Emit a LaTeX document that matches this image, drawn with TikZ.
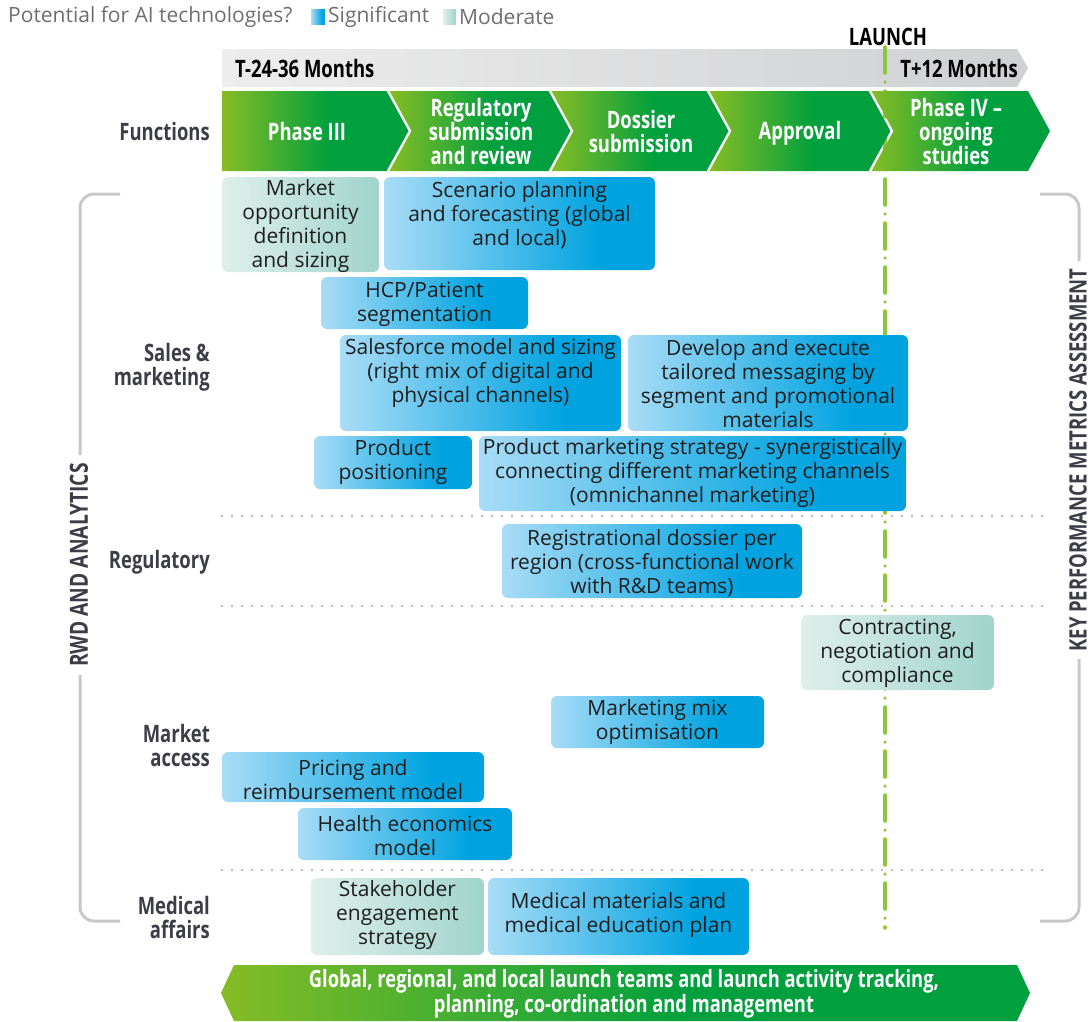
\documentclass[tikz,border=0pt]{standalone}
\usepackage{fontspec}
\setmainfont{Open Sans}
\newfontfamily\cond{Open Sans}[FakeStretch=0.77]
\definecolor{sigL}{HTML}{A9DCF6}
\definecolor{sigR}{HTML}{00A3E0}
\definecolor{modL}{HTML}{DFEFEA}
\definecolor{modR}{HTML}{A0D4CC}
\definecolor{grnL}{HTML}{86BC25}
\definecolor{grnR}{HTML}{00A03E}
\definecolor{grayL}{HTML}{EDEDED}
\definecolor{grayR}{HTML}{CFD0D2}
\definecolor{lbl}{HTML}{3D3D47}
\definecolor{brk}{HTML}{C8C8C8}
\definecolor{dotc}{HTML}{A5A5A5}
\definecolor{launchc}{HTML}{8DC63F}
\definecolor{txt}{HTML}{1E1E1E}
\definecolor{legc}{HTML}{6D6E70}
\pgfdeclarehorizontalshading{sigsh}{100bp}{color(0bp)=(sigL); color(25bp)=(sigL); color(65bp)=(sigR); color(100bp)=(sigR)}
\pgfdeclarehorizontalshading{modsh}{100bp}{color(0bp)=(modL); color(25bp)=(modL); color(75bp)=(modR); color(100bp)=(modR)}
\pgfdeclarehorizontalshading{grnsh}{100bp}{color(0bp)=(grnL); color(25bp)=(grnL); color(54bp)=(grnR); color(100bp)=(grnR)}
\pgfdeclarehorizontalshading{graysh}{100bp}{color(0bp)=(grayL); color(25bp)=(grayL); color(75bp)=(grayR); color(100bp)=(grayR)}
\newcommand\aibox[8]{%
  \path[#2] (#3,#4) rectangle (#5,#6);
  \node[boxtext] (#1) at ({(#3+#5)/2},{#7+1.5}) {#8};
}
\begin{document}
\begin{tikzpicture}[x=1pt,y=-1pt,
  boxtext/.style={align=center, text=txt, font=\fontsize{21}{24}\selectfont, inner sep=0pt},
  hdr/.style={font=\cond\bfseries\fontsize{24}{24}\selectfont, text=black, inner sep=0pt},
  rowlbl/.style={font=\cond\bfseries\fontsize{24}{24}\selectfont, text=lbl, align=right, anchor=east, inner sep=0pt},
  chev/.style={font=\cond\bfseries\fontsize{24}{24}\selectfont, text=white, align=center, inner sep=0pt},
  sig/.style={shade, shading=sigsh, rounded corners=6pt},
  mod/.style={shade, shading=modsh, rounded corners=6pt},
  chevfill/.style={shade, shading=grnsh},
  sepline/.style={draw=dotc, line width=2.4pt, line cap=round, dash pattern=on 0pt off 10pt},
  brack/.style={draw=brk, line width=3pt, rounded corners=14pt},
  launchln/.style={draw=launchc, line width=3.5pt, line cap=round, dash pattern=on 26pt off 9pt on 0pt off 9pt},
  legtxt/.style={font=\fontsize{21}{24}\selectfont, text=legc, inner sep=0pt, anchor=west},
  vtext/.style={font=\cond\bfseries\fontsize{25}{26}\selectfont, text=lbl, rotate=90, inner sep=0pt},
]
\useasboundingbox (0,0) rectangle (1089,1021);

% legend
\node[legtxt] (legq) at (8,17) {Potential for AI technologies?};
\path[shade, shading=sigsh] (311,9) rectangle (325,24);
\node[legtxt] (legs) at (328,17) {Significant};
\path[shade, shading=modsh] (443,9) rectangle (456,24);
\node[legtxt] (legm) at (459,17) {Moderate};

% gray timeline bar
\path[shade, shading=graysh] (222,49) -- (1017,49) -- (1028,68) -- (1017,87) -- (222,87) -- cycle;

% launch line
\node[hdr] (launch) at (888,37) {LAUNCH};
\coordinate (lnA) at (885,47);
\coordinate (lnB) at (885,928);
\draw[launchln] (lnA) -- (lnB);

\node[hdr, anchor=west] (tminus) at (235,68) {T-24-36 Months};
\node[hdr, anchor=east] (tplus) at (1018,68) {T+12 Months};

% chevrons
\path[chevfill] (222,91) -- (386.5,91) -- (408.5,131) -- (386.5,171) -- (222,171) -- cycle;
\path[chevfill] (389.5,91) -- (548.5,91) -- (570.5,131) -- (548.5,171) -- (389.5,171) -- (411.5,131) -- cycle;
\path[chevfill] (551.5,91) -- (706.5,91) -- (728.5,131) -- (706.5,171) -- (551.5,171) -- (573.5,131) -- cycle;
\path[chevfill] (709.5,91) -- (868.5,91) -- (890.5,131) -- (868.5,171) -- (709.5,171) -- (731.5,131) -- cycle;
\path[chevfill] (871.5,91) -- (1028,91) -- (1050,131) -- (1028,171) -- (871.5,171) -- (893.5,131) -- cycle;
\node[chev] (c1) at (307,131) {Phase III};
\node[chev] (c2) at (481,131) {Regulatory\\submission\\and review};
\node[chev] (c3) at (641,131) {Dossier\\submission};
\node[chev] (c4) at (800,133) {Approval};
\node[chev] (c5) at (956,131) {Phase IV –\\ongoing\\studies};

% row labels
\node[rowlbl] (rf) at (210,131) {Functions};
\node[rowlbl] (rs) at (210,367) {Sales \&\\marketing};
\node[rowlbl] (rr) at (210,562) {Regulatory};
\node[rowlbl] (rm) at (210,745) {Market\\access};
\node[rowlbl] (rmed) at (210,917) {Medical\\affairs};

% separators
\coordinate (s1a) at (222,516); \coordinate (s1b) at (1052,516);
\coordinate (s2a) at (222,606); \coordinate (s2b) at (1052,606);
\coordinate (s3a) at (222,870); \coordinate (s3b) at (1052,870);
\draw[sepline] (s1a) -- (s1b);
\draw[sepline] (s2a) -- (s2b);
\draw[sepline] (s3a) -- (s3b);

% brackets
\draw[brack] (120,194) -- (80,194) -- (80,455);
\draw[brack] (80,675) -- (80,921) -- (120,921);
\node[vtext] (rwd) at (79,565) {RWD AND ANALYTICS};
\draw[brack] (1040,194) -- (1079,194) -- (1079,261);
\draw[brack] (1079,659) -- (1079,921) -- (1040,921);
\node[vtext, font=\cond\bfseries\fontsize{24}{26}\selectfont] (kpm) at (1078,460) {KEY PERFORMANCE METRICS ASSESSMENT};

% activity boxes
\aibox{b1}{mod}{222}{177}{379}{272}{225}{Market\\opportunity\\definition\\and sizing}
\aibox{b2}{sig}{384}{177}{655}{270}{214}{Scenario planning\\and forecasting (global\\and local)}
\aibox{b3}{sig}{321}{277}{528}{329}{303}{HCP/Patient\\segmentation}
\aibox{b4}{sig}{340}{335}{621}{431}{371}{Salesforce model and sizing\\(right mix of digital and\\physical channels)}
\aibox{b5}{sig}{628}{335}{908}{431}{382}{Develop and execute\\tailored messaging by\\segment and promotional\\materials}
\aibox{b6}{sig}{314}{436}{472}{489}{461}{Product\\positioning}
\aibox{b7}{sig}{479}{436}{906}{511}{472}{Product marketing strategy - synergistically\\connecting different marketing channels\\(omnichannel marketing)}
\aibox{b8}{sig}{502}{524}{802}{598}{562}{Registrational dossier per\\region (cross-functional work\\with R\&D teams)}
\aibox{b9}{mod}{801}{615}{994}{690}{652}{Contracting,\\negotiation and\\compliance}
\aibox{b10}{sig}{551}{696}{764}{748}{721}{Marketing mix\\optimisation}
\aibox{b11}{sig}{222}{752}{484}{802}{778}{Pricing and\\reimbursement model}
\aibox{b12}{sig}{298}{808}{512}{860}{834}{Health economics\\model}
\aibox{b13}{mod}{311}{878}{484}{955}{914}{Stakeholder\\engagement\\strategy}
\aibox{b14}{sig}{488}{878}{749}{955}{914}{Medical materials and\\medical education plan}

% bottom arrow
\path[chevfill] (221,993) -- (234,965) -- (1017,965) -- (1030,993) -- (1017,1021) -- (234,1021) -- cycle;
\node[chev, font=\cond\bfseries\fontsize{23.8}{23}\selectfont] (bottom) at (624,994) {Global, regional, and local launch teams and launch activity tracking,\\planning, co-ordination and management};
\end{tikzpicture}
\end{document}
